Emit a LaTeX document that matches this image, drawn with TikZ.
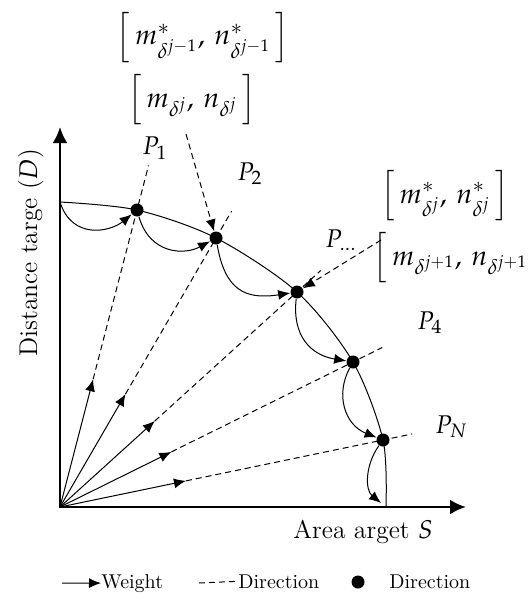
\documentclass[tikz,border=0pt]{standalone}
\usepackage{amsmath}
\usepackage{mathpazo}
\usetikzlibrary{arrows.meta,calc}

\begin{document}
\begin{tikzpicture}[
  x=0.5pt, y=-0.5pt,
  >={Latex[length=6pt,width=5pt]},
  axis/.style={line width=1.3pt, {Latex[length=8pt,width=7.5pt]}-{Latex[length=8pt,width=7.5pt]}},
  front/.style={line width=0.5pt},
  weight/.style={line width=0.5pt, ->},
  dir/.style={line width=0.5pt, dash pattern=on 3pt off 2pt},
  dot/.style={circle, fill, inner sep=0pt, minimum size=6.5pt},
  lbl/.style={font=\fontsize{12.8}{15}\selectfont, inner sep=0pt},
  pair/.style={font=\fontsize{14}{16}\selectfont, inner sep=0pt},
  leg/.style={font=\fontsize{10}{12}\selectfont, inner sep=0pt}
]
\useasboundingbox (0,0) rectangle (530,599);

\coordinate (o)    at (60,507);
\coordinate (ytip) at (60,127);
\coordinate (xtip) at (466,507);
\coordinate (d0)   at (60,202);
\coordinate (s0)   at (386,507);

\node[dot] (p1) at (137,210) {};
\node[dot] (p2) at (216,238) {};
\node[dot] (p3) at (297,292) {};
\node[dot] (p4) at (353,362) {};
\node[dot] (pN) at (383,440) {};

\draw[axis] (ytip) -- (o) -- (xtip);
\draw[front] plot[smooth] coordinates {(d0) (p1.center) (p2.center) (p3.center) (p4.center) (pN.center) (s0)};

\coordinate (t1) at ($(o)!0.43!(p1)$);
\coordinate (t2) at ($(o)!0.42!(p2)$);
\coordinate (t3) at ($(o)!0.40!(p3)$);
\coordinate (t4) at ($(o)!0.38!(p4)$);
\coordinate (t5) at ($(o)!0.39!(pN)$);
\coordinate (e1) at ($(o)!1.15!(p1)$);
\coordinate (e2) at ($(o)!1.10!(p2)$);
\coordinate (e3) at ($(o)!1.10!(p3)$);
\coordinate (e4) at ($(o)!1.10!(p4)$);
\coordinate (e5) at ($(o)!1.09!(pN)$);

\draw[weight] (o) -- (t1);
\draw[weight] (o) -- (t2);
\draw[weight] (o) -- (t3);
\draw[weight] (o) -- (t4);
\draw[weight] (o) -- (t5);
\draw[dir] (t1) -- (e1);
\draw[dir] (t2) -- (e2);
\draw[dir] (t3) -- (e3);
\draw[dir] (t4) -- (e4);
\draw[dir] (t5) -- (e5);

\coordinate (w6) at (381,503);
\draw[weight] (d0) .. controls (72,240) and (110,232) .. (p1);
\draw[weight] (p1) .. controls (150,255) and (185,255) .. (p2);
\draw[weight] (p2) .. controls (225,290) and (245,300) .. (p3);
\draw[weight] (p3) .. controls (292,335) and (310,355) .. (p4);
\draw[weight] (p4) .. controls (335,395) and (345,425) .. (pN);
\draw[weight] (pN) .. controls (365,465) and (365,490) .. (w6);

\coordinate (a2) at (186,134);
\coordinate (a3) at (381,240);
\draw[dir,->] (a2) -- (p2);
\draw[dir,->] (a3) -- (p3);

\node[pair] (optprev)  at (203,38)  {$\Big[\, m^{*}_{\delta^{j-1}} ,\, n^{*}_{\delta^{j-1}} \,\Big]$};
\node[pair] (candcur)  at (192,100) {$\Big[\, m_{\delta^{j}} ,\, n_{\delta^{j}} \,\Big]$};
\node[pair] (optcur)   at (445,196) {$\Big[\, m^{*}_{\delta^{j}} ,\, n^{*}_{\delta^{j}} \,\Big]$};
\node[pair] (candnext) at (460,258) {$\Big[\, m_{\delta^{j+1}} ,\, n_{\delta^{j+1}} \,\Big]$};

\node[lbl, anchor=base west] (lp1) at (142,155) {$P_1$};
\node[lbl, anchor=base west] (lp2) at (237,180) {$P_2$};
\node[lbl, anchor=base west] (lp3) at (325,247) {$P_{\ldots}$};
\node[lbl, anchor=base west] (lp4) at (417,329) {$P_4$};
\node[lbl, anchor=base west] (lpN) at (435,433) {$P_N$};

\node[lbl, anchor=base west, rotate=90] (ylab) at (37,357) {Distance targe ($D$)};
\node[lbl, anchor=base west] (xlab) at (293,538) {Area arget $S$};

\coordinate (lw) at (62,583);
\node[leg, anchor=base west] (legw) at (101,588) {Weight};
\draw[weight] (lw) -- (legw.west);
\coordinate (ld) at (199,583);
\node[leg, anchor=base west] (legd) at (238,588) {Direction};
\draw[dir] (ld) -- (legd.west);
\node[dot] (legdot) at (358,582) {};
\node[leg, anchor=base west] (legp) at (389,588) {Direction};
\end{tikzpicture}
\end{document}
